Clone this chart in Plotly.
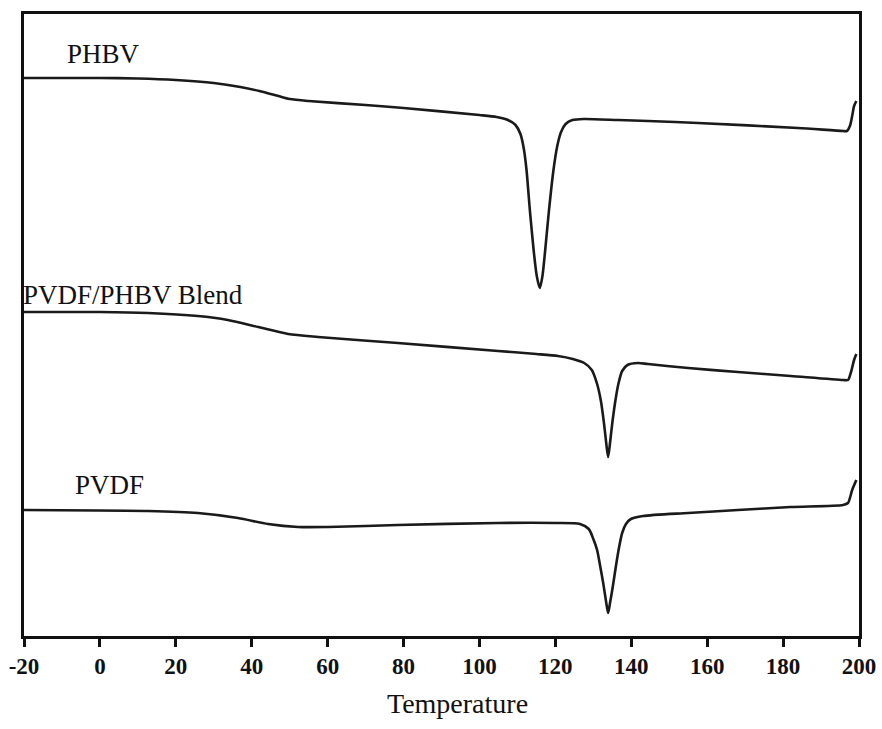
import plotly.graph_objects as go

# Temperature (°C) and heat-flow signal (arbitrary units)
phbv_t = [-20, 0, 10, 20, 30, 37, 42, 47, 50, 55, 70, 80, 100, 104.5, 107.5, 109.5, 110.8, 111.7, 112.4, 113.3,
          114.3, 115.1, 115.9, 116.6, 117.3, 118.3, 119.5, 120.5, 121.5, 122.7, 124.5, 127.5, 136.5, 144.4,
          157.6, 183.9, 195.8, 196.8, 197.6, 198.2, 198.7, 199.3]
phbv_y = [558, 558, 557.5, 556, 553, 549, 545, 540, 537, 535, 531, 528, 521, 519, 516, 511, 502, 487, 466, 425,
          385, 360, 348, 360, 385, 425, 466, 490, 504, 512, 516, 517, 516, 515,
          513, 508, 505, 505, 510, 520, 530, 535]

blend_t = [-20, 0, 12.7, 25.8, 33.7, 41.7, 49.6, 57.5, 78.5, 104.9, 115, 120.7, 124.6, 127.6, 129.6, 131.0, 132.0,
           132.8, 133.4, 133.9, 134.4, 135.0, 135.8, 136.6, 137.6, 139.0, 141.8, 144.4, 155, 168.1, 182, 195.8,
           197.1, 197.9, 198.7, 199.3]
blend_y = [324, 324, 323, 320, 316, 309, 302, 299, 293, 285, 282, 280, 277, 273, 266, 252, 235,
           213, 193, 179, 193, 213, 235, 252, 265, 271, 273, 272, 268, 264, 260, 256,
           256, 264, 276, 282]

pvdf_t = [-20, 12.7, 25.8, 36.4, 44.3, 52.2, 60.1, 78.5, 104.9, 120, 126.5, 128.8, 130.0, 131.0, 131.8, 132.6,
          133.3, 133.9, 134.4, 135.2, 136.0, 136.8, 137.6, 138.6, 139.9, 143.1, 155, 168.1, 182, 195.8, 197.1,
          198.2, 199.3]
pvdf_y = [126, 125, 123, 118, 112, 109, 109, 111, 113, 113, 112, 107, 97, 86, 70, 53,
          36, 23, 33, 51, 71, 89, 103, 112, 117, 120, 123, 126, 129, 131, 133,
          146, 156]

x_ticks = [-20, 0, 20, 40, 60, 80, 100, 120, 140, 160, 180, 200]

labels = ["PHBV", "PVDF/PHBV Blend", "PVDF"]
label_x = [-9.2, -20.0, -7.1]
label_shift = [0, -3, 0]
label_y = [582, 341, 151]

fig = go.Figure()
for t, y, name in [(phbv_t, phbv_y, labels[0]), (blend_t, blend_y, labels[1]), (pvdf_t, pvdf_y, labels[2])]:
    fig.add_trace(go.Scatter(x=t, y=y, mode="lines", name=name,
                             line=dict(color="#1a1a1a", width=2.6, shape="spline", smoothing=0.7),
                             showlegend=False, hoverinfo="skip"))

for txt, lx, sh, ly in zip(labels, label_x, label_shift, label_y):
    fig.add_annotation(x=lx, y=ly, xshift=sh, text=txt, showarrow=False, xanchor="left", yanchor="middle",
                       font=dict(family="Liberation Serif", size=27, color="#111"))

fig.add_annotation(x=(457 - 24) / 835, y=-(703 - 636) / 622, xref="paper", yref="paper",
                   text="Temperature", showarrow=False, xanchor="center", yanchor="middle",
                   font=dict(family="Liberation Serif", size=28, color="#111"))

fig.update_layout(
    width=882, height=729,
    margin=dict(l=24, r=23, t=14, b=93, autoexpand=False),
    paper_bgcolor="white", plot_bgcolor="white",
    xaxis=dict(range=[-20, 200], tickvals=x_ticks, ticktext=[str(v) for v in x_ticks],
               automargin=False,
               showgrid=False, zeroline=False, showline=True, linecolor="#111", linewidth=2.5,
               mirror=True, ticks="outside", ticklen=8, tickwidth=2.5, tickcolor="#111",
               tickfont=dict(family="Liberation Serif", size=23, color="#111", weight="bold")),
    yaxis=dict(range=[0, 622], showgrid=False, zeroline=False, showline=True, linecolor="#111",
               automargin=False,
               linewidth=2.5, mirror=True, showticklabels=False, ticks=""),
)

fig.write_html("out.html")
